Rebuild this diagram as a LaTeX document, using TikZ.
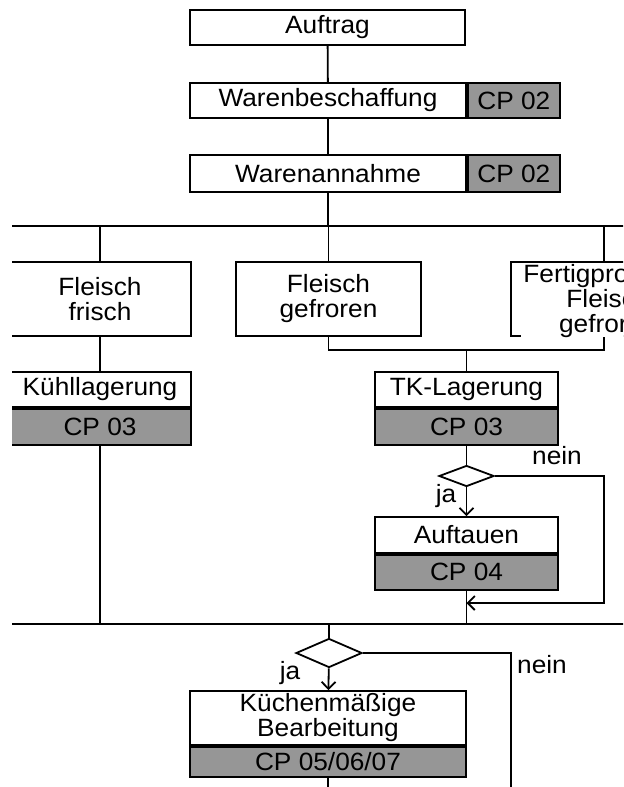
\documentclass[tikz,border=0pt]{standalone}
\usepackage{fontspec}
\setmainfont[FakeStretch=1.05]{Liberation Sans}
\usepackage{tikz}
\usetikzlibrary{shapes.geometric, arrows.meta, positioning}
\definecolor{cpgrey}{RGB}{150, 150, 150}
\newcommand{\mainsize}{\fontsize{12.5}{12.5}\selectfont}

\begin{document}
\begin{tikzpicture}[
    x=0.5pt, y=-0.5pt,
    box/.style={draw, fill=white, line width=0.9pt, inner sep=0pt, minimum width=138pt, minimum height=17.5pt, align=center, font=\mainsize},
    cpbox/.style={box, fill=cpgrey},
    decision/.style={draw, diamond, line width=0.9pt, inner sep=0pt, minimum width=27.5pt, minimum height=10.5pt},
    line/.style={line width=0.9pt},
    arrow/.style={line, -{Straight Barb[length=3.5pt, width=7pt]}},
    lbl/.style={font=\mainsize, inner sep=0pt}
]
    \useasboundingbox (0,0) rectangle (623,787);
    \clip (12,0) rectangle (623,787);

    % upper chain
    \node[box, minimum width=137.5pt] (auftrag) at (327.5, 27.5) {Auftrag};
    \node[box] (beschaff) at (328, 100.5) {Warenbeschaffung};
    \node[cpbox, minimum width=46pt, right=0pt of beschaff] (beschaffcp) {CP 02};
    \node[box, minimum height=18.5pt] (annahme) at (328, 173.5) {Warenannahme};
    \node[cpbox, minimum width=46pt, minimum height=18.5pt, right=0pt of annahme] (annahmecp) {CP 02};

    \draw[line] (auftrag) -- (beschaff);
    \draw[line] (beschaff) -- (annahme);

    % first bus
    \coordinate (busL) at (12, 226);
    \coordinate (busR) at (640, 226);
    \draw[line] (busL) -- (busR);
    \draw[line] (annahme.south) -- (annahme.south |- busL);

    % product types
    \node[box, minimum width=91pt, minimum height=37pt] (frisch) at (100, 299) {Fleisch\\frisch};
    \node[box, minimum width=92.5pt, minimum height=37pt] (gefroren) at (328.5, 299) {Fleisch\\gefroren};
    \node[box, minimum width=93pt, minimum height=37pt] (fertig) at (604, 299) {};
    \node[lbl, fill=white, align=center, anchor=north, inner xsep=1pt] (fertigtext) at (608, 264) {Fertigprodukte\\Fleisch\\gefroren};

    \draw[line] (frisch.north) -- (frisch.north |- busL);
    \draw[line] (gefroren.north) -- (gefroren.north |- busL);
    \draw[line] (fertig.north) -- (fertig.north |- busL);

    % storage
    \node[box, minimum width=91pt] (kuehl) at (100, 389.5) {Kühllagerung};
    \node[cpbox, minimum width=91pt, minimum height=18pt, below=0pt of kuehl] (kuehlcp) {CP 03};
    \node[box, minimum width=91.5pt] (tk) at (466.5, 389.5) {TK-Lagerung};
    \node[cpbox, minimum width=91.5pt, minimum height=18pt, below=0pt of tk] (tkcp) {CP 03};

    \coordinate (joinL) at (328.5, 350);
    \coordinate (joinR) at (604, 350);
    \draw[line] (frisch) -- (kuehl);
    \draw[line] (gefroren.south) -- (joinL) -- (joinR) -- (fertig.south);
    \draw[line] (tk.north |- joinL) -- (tk.north);

    % thawing
    \node[decision] (d1) at (466.5, 476) {};
    \node[box, minimum width=91.5pt, minimum height=18pt] (auftauen) at (466.5, 535) {Auftauen};
    \node[cpbox, minimum width=91.5pt, below=0pt of auftauen] (auftauencp) {CP 04};
    \node[lbl] (nein1) at (557, 456) {nein};
    \node[lbl] (ja1) at (446, 496) {ja};

    \coordinate (loopR) at (604, 603);
    \coordinate (loopIn) at (466.5, 603);
    \draw[line] (tkcp) -- (d1);
    \draw[arrow] (d1) -- (auftauen);
    \draw[arrow] (d1.east) -| (loopR) -- (loopIn);

    % second bus
    \coordinate (bus2L) at (12, 624);
    \coordinate (bus2R) at (640, 624);
    \draw[line] (bus2L) -- (bus2R);
    \draw[line] (kuehlcp.south) -- (kuehlcp.south |- bus2L);
    \draw[line] (auftauencp.south) -- (auftauencp.south |- bus2L);

    % kitchen processing
    \node[decision, minimum width=33pt, minimum height=14.5pt] (d2) at (329, 653) {};
    \node[box, minimum height=27pt] (kuechen) at (328, 718) {Küchenmäßige\\Bearbeitung};
    \node[cpbox, minimum height=15pt, below=0pt of kuechen] (kuechencp) {CP 05/06/07};
    \node[lbl] (ja2) at (290, 673) {ja};
    \node[lbl] (nein2) at (542, 665) {nein};

    \coordinate (nein2end) at (511, 800);
    \coordinate (kuechenend) at (328, 800);
    \draw[line] (d2 |- bus2L) -- (d2.north);
    \draw[arrow] (d2) -- (kuechen);
    \draw[line] (d2.east) -| (nein2end);
    \draw[line] (kuechencp) -- (kuechenend);
\end{tikzpicture}
\end{document}
